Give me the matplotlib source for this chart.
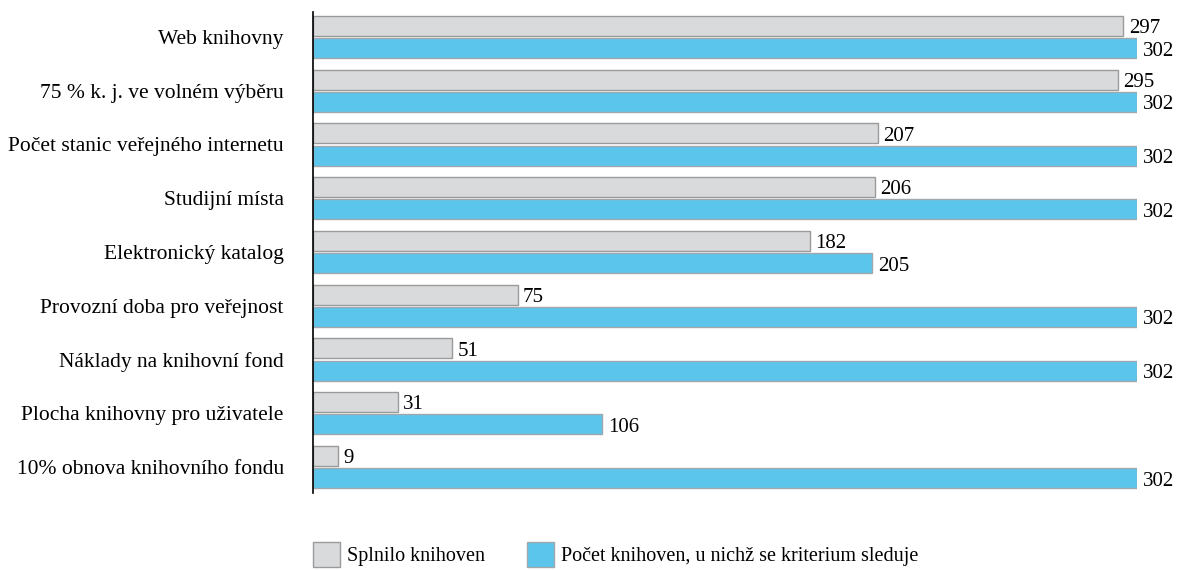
import matplotlib.pyplot as plt
import numpy as np
from matplotlib.patches import Patch

# data
kriteria = ['Web knihovny', '75 % k. j. ve volném výběru', 'Počet stanic veřejného internetu',
            'Studijní místa', 'Elektronický katalog', 'Provozní doba pro veřejnost',
            'Náklady na knihovní fond', 'Plocha knihovny pro uživatele', '10% obnova knihovního fondu']
splnilo = [297, 295, 207, 206, 182, 75, 51, 31, 9]
sleduje = [302, 302, 302, 302, 205, 302, 302, 106, 302]

plt.rcParams['font.family'] = ['Liberation Serif', 'DejaVu Serif']

fig = plt.figure(figsize=(11.81, 5.70), dpi=100)
ax = fig.add_axes([313/1181, 77/570, 824/1181, 481/570])

y = np.arange(len(kriteria))
vyska = 0.372
posun = 0.205

sedy = '#d9dadc'
modry = '#5bc5ec'

ax.barh(y - posun, splnilo, height=vyska, color=sedy, edgecolor='#9a9a9a', linewidth=1)
ax.barh(y + posun, sleduje, height=vyska, color=modry, edgecolor='#a0a8ad', linewidth=1)

for i in range(len(kriteria)):
    ax.text(splnilo[i] + 2, y[i] - posun + 0.05, str(splnilo[i]), va='center', ha='left', fontsize=15, clip_on=False)
    ax.text(sleduje[i] + 2, y[i] + posun + 0.06, str(sleduje[i]), va='center', ha='left', fontsize=15, clip_on=False)

ax.set_xlim(0, 302)
ax.set_ylim(8.484, -0.465)
ax.set_yticks(y)
ax.set_yticklabels(kriteria, fontsize=15.5)
ax.tick_params(axis='y', length=0, pad=21)
ax.set_xticks([])

for s in ['top', 'right', 'bottom']:
    ax.spines[s].set_visible(False)
ax.spines['left'].set_linewidth(1.2)

handles = [Patch(facecolor=sedy, edgecolor='#9a9a9a', label='Splnilo knihoven'),
           Patch(facecolor=modry, edgecolor='#a0a8ad', label='Počet knihoven, u nichž se kriterium sleduje')]
fig.legend(handles=handles, loc='upper left', bbox_to_anchor=(313/1181, 28/570), ncol=2,
           frameon=False, fontsize=14.5, handlelength=1.34, handleheight=1.5,
           handletextpad=0.35, columnspacing=2.1, borderpad=0, borderaxespad=0)

fig.savefig('out.png', dpi=100)
